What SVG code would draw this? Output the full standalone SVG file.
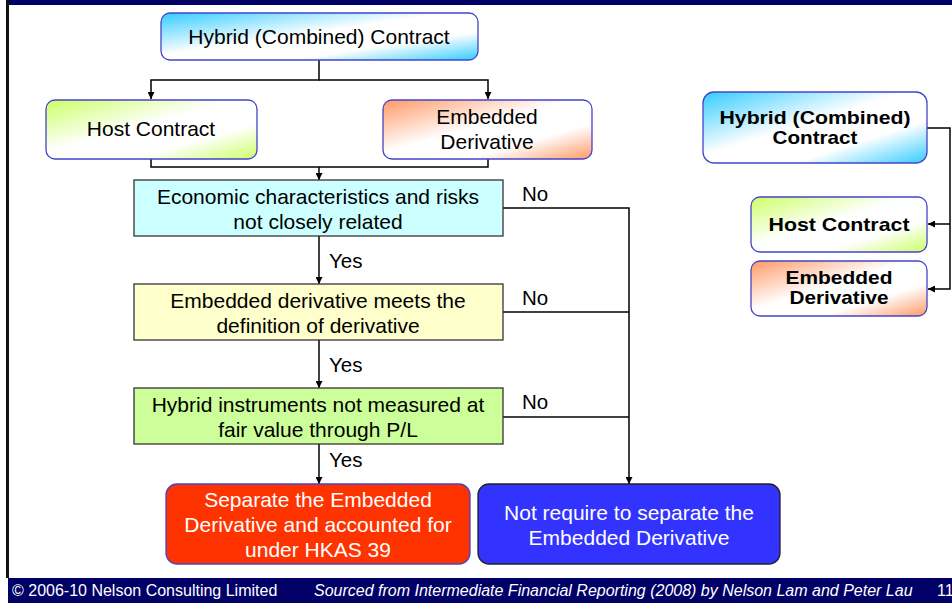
<svg xmlns="http://www.w3.org/2000/svg" width="952" height="603" viewBox="0 0 952 603">
  <style>
    text { font-family: "Liberation Sans", Arial, sans-serif; }
    .t { font-size: 21px; fill: #000; text-anchor: middle; }
    .tw { font-size: 21px; fill: #fff; text-anchor: middle; }
    .tb { font-size: 18.5px; font-weight: bold; fill: #000; text-anchor: middle; }
    .lbl { font-size: 20.5px; fill: #000; }
    .foot { font-size: 16px; fill: #fff; }
    .rnd { stroke: #4444cc; stroke-width: 1.3; }
    .dec { stroke: #333; stroke-width: 1.3; }
    .conn { fill: none; stroke: #000; stroke-width: 1.5; }
  </style>
  <defs>
    <linearGradient id="gBlue" x1="0" y1="0" x2="1" y2="1">
      <stop offset="0" stop-color="#33ccff"/>
      <stop offset="0.45" stop-color="#ffffff"/>
      <stop offset="0.7" stop-color="#ffffff"/>
      <stop offset="1" stop-color="#33ccff"/>
    </linearGradient>
    <linearGradient id="gGreen" x1="0" y1="0" x2="1" y2="1">
      <stop offset="0" stop-color="#ccff66"/>
      <stop offset="0.45" stop-color="#ffffff"/>
      <stop offset="0.7" stop-color="#ffffff"/>
      <stop offset="1" stop-color="#ccff66"/>
    </linearGradient>
    <linearGradient id="gOrange" x1="0" y1="0" x2="1" y2="1">
      <stop offset="0" stop-color="#ff9966"/>
      <stop offset="0.45" stop-color="#ffffff"/>
      <stop offset="0.7" stop-color="#ffffff"/>
      <stop offset="1" stop-color="#ff9966"/>
    </linearGradient>
    <marker id="arr" viewBox="0 0 10 10" refX="10" refY="5" markerWidth="7" markerHeight="7" orient="auto" markerUnits="userSpaceOnUse">
      <path d="M0,0 L10,5 L0,10 z" fill="#000"/>
    </marker>
  </defs>

  <!-- page frame -->
  <rect x="0" y="0" width="952" height="603" fill="#fff"/>
  <rect x="9" y="0" width="943" height="5" fill="#000066"/>
  <rect x="6" y="0" width="3" height="578" fill="#111"/>
  <rect x="8" y="578" width="944" height="25" fill="#000066"/>

  <!-- connectors -->
  <g id="connectors">
    <path class="conn" d="M319,60 V80 H151 V99" marker-end="url(#arr)"/>
    <path class="conn" d="M319,80 H488 V99" marker-end="url(#arr)"/>
    <path class="conn" d="M151,159 V167 H488 V159"/>
    <path class="conn" d="M319,167 V180" marker-end="url(#arr)"/>
    <path class="conn" d="M319,236 V284" marker-end="url(#arr)"/>
    <path class="conn" d="M319,340 V388" marker-end="url(#arr)"/>
    <path class="conn" d="M319,444 V484" marker-end="url(#arr)"/>
    <path class="conn" d="M503,208 H629 V484" marker-end="url(#arr)"/>
    <path class="conn" d="M503,312 H629"/>
    <path class="conn" d="M503,417 H629"/>
    <path class="conn" d="M927,128 H950 V289 H928" marker-end="url(#arr)"/>
    <path class="conn" d="M950,224 H928" marker-end="url(#arr)"/>
    <text class="lbl" x="522" y="201">No</text>
    <text class="lbl" x="522" y="305">No</text>
    <text class="lbl" x="522" y="409">No</text>
    <text class="lbl" x="329" y="268">Yes</text>
    <text class="lbl" x="329" y="372">Yes</text>
    <text class="lbl" x="329" y="467">Yes</text>
  </g>

  <g id="hybrid">
    <rect class="rnd" x="161" y="13" width="317" height="47" rx="9" fill="url(#gBlue)"/>
    <text class="t" x="319" y="44">Hybrid (Combined) Contract</text>
  </g>
  <g id="host">
    <rect class="rnd" x="46" y="100" width="211" height="59" rx="9" fill="url(#gGreen)"/>
    <text class="t" x="151" y="136">Host Contract</text>
  </g>
  <g id="embedded">
    <rect class="rnd" x="383" y="100" width="209" height="59" rx="9" fill="url(#gOrange)"/>
    <text class="t" x="487" y="124">Embedded</text>
    <text class="t" x="487" y="149">Derivative</text>
  </g>
  <g id="q1">
    <rect class="dec" x="134" y="180" width="369" height="56" fill="#ccffff"/>
    <text class="t" x="318" y="204">Economic characteristics and risks</text>
    <text class="t" x="318" y="229">not closely related</text>
  </g>
  <g id="q2">
    <rect class="dec" x="134" y="284" width="369" height="56" fill="#ffffcc"/>
    <text class="t" x="318" y="308">Embedded derivative meets the</text>
    <text class="t" x="318" y="333">definition of derivative</text>
  </g>
  <g id="q3">
    <rect class="dec" x="134" y="388" width="369" height="56" fill="#ccff99"/>
    <text class="t" x="318" y="412">Hybrid instruments not measured at</text>
    <text class="t" x="318" y="437">fair value through P/L</text>
  </g>
  <g id="separate">
    <rect class="rnd" x="166" y="484" width="304" height="80" rx="11" fill="#ff3300"/>
    <text class="tw" x="318" y="507">Separate the Embedded</text>
    <text class="tw" x="318" y="532">Derivative and accounted for</text>
    <text class="tw" x="318" y="557">under HKAS 39</text>
  </g>
  <g id="noseparate">
    <rect x="478" y="484" width="302" height="80" rx="11" fill="#3333ff" stroke="#222" stroke-width="1.3"/>
    <text class="tw" x="629" y="520">Not require to separate the</text>
    <text class="tw" x="629" y="545">Embedded Derivative</text>
  </g>

  <g id="hybrid-r">
    <rect class="rnd" x="703" y="92" width="224" height="71" rx="11" fill="url(#gBlue)"/>
    <text class="tb" x="815" y="124" textLength="191" lengthAdjust="spacingAndGlyphs">Hybrid (Combined)</text>
    <text class="tb" x="815" y="144" textLength="85" lengthAdjust="spacingAndGlyphs">Contract</text>
  </g>
  <g id="host-r">
    <rect class="rnd" x="751" y="197" width="176" height="55" rx="9" fill="url(#gGreen)"/>
    <text class="tb" x="839" y="231" textLength="141" lengthAdjust="spacingAndGlyphs">Host Contract</text>
  </g>
  <g id="embedded-r">
    <rect class="rnd" x="751" y="261" width="176" height="55" rx="9" fill="url(#gOrange)"/>
    <text class="tb" x="839" y="284" textLength="107" lengthAdjust="spacingAndGlyphs">Embedded</text>
    <text class="tb" x="839" y="304" textLength="99" lengthAdjust="spacingAndGlyphs">Derivative</text>
  </g>

  <!-- footer -->
  <text class="foot" x="12" y="596">© 2006-10 Nelson Consulting Limited</text>
  <text class="foot" x="314" y="596" font-style="italic">Sourced from Intermediate Financial Reporting (2008) by Nelson Lam and Peter Lau</text>
  <text class="foot" x="937" y="596">11</text>
</svg>
